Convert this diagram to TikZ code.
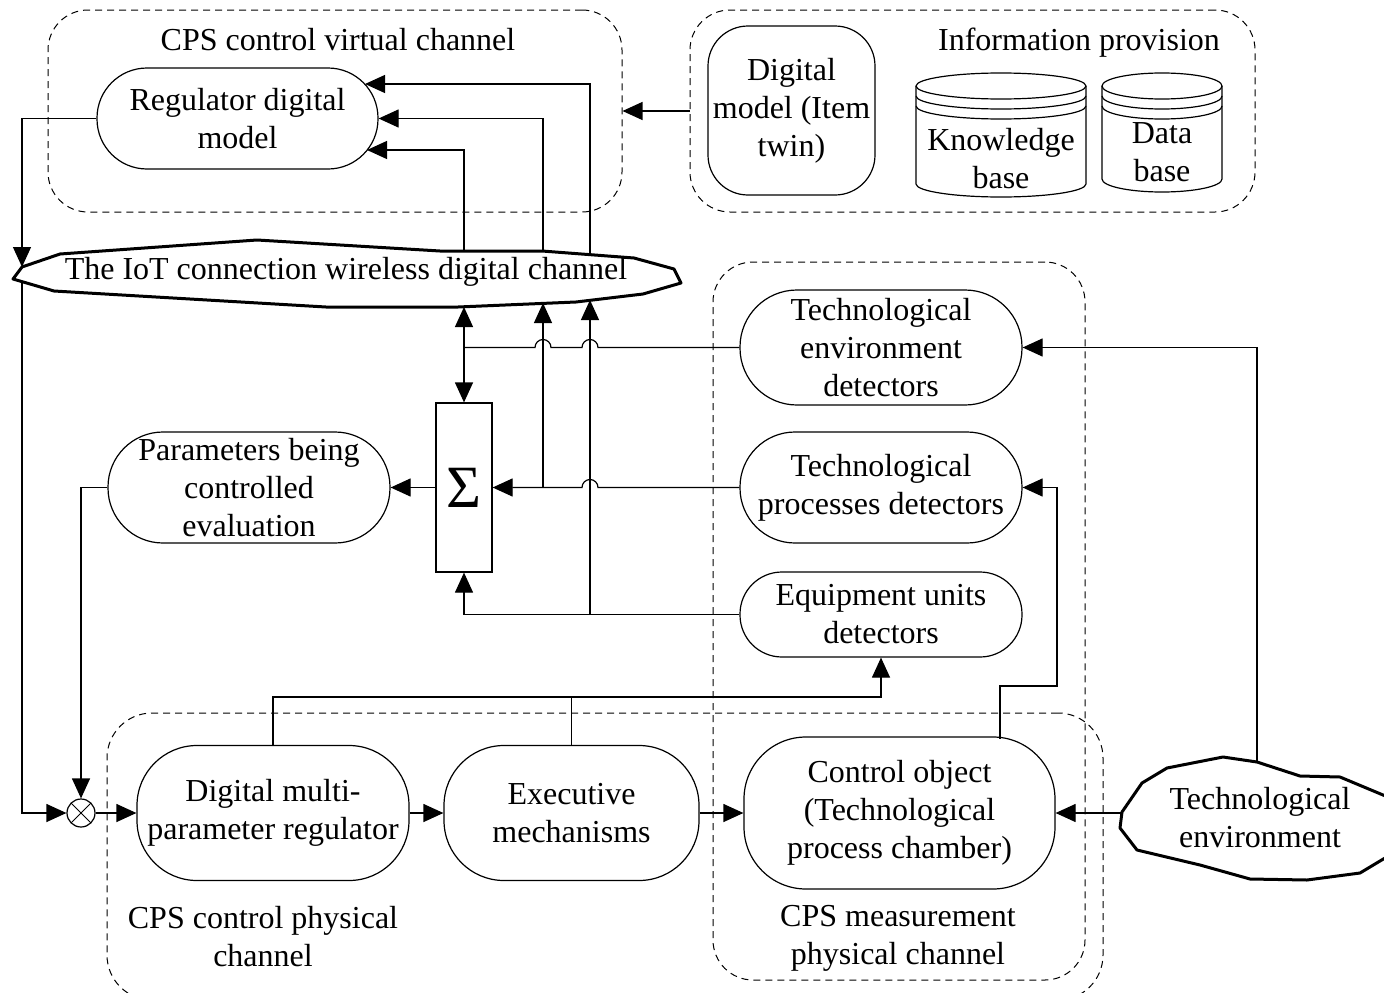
\documentclass[tikz,border=0pt]{standalone}
\usepackage{fontspec}
\setmainfont{Liberation Serif}
\usetikzlibrary{arrows.meta}
\newcommand\fs{\fontsize{32}{38}\selectfont}
\begin{document}
\begin{tikzpicture}[x=1pt,y=-1pt,
  every node/.style={font=\fs, align=center, inner sep=0pt},
  ln/.style={line width=1.2pt},
  arr/.style={ln, -{Triangle[length=20pt,width=18pt]}},
  darr/.style={ln, {Triangle[length=20pt,width=18pt]}-{Triangle[length=20pt,width=18pt]}},
  grp/.style={draw, line width=1pt, dash pattern=on 7pt off 5pt, rounded corners=40pt},
  blk/.style={draw, line width=1.2pt, fill=white},
  heavy/.style={line width=3pt, line join=round}]

\useasboundingbox (0,0) rectangle (1384,993);
\fill[white] (0,0) rectangle (1384,993);

% group frames
\node[grp, minimum width=574pt, minimum height=202pt] (virt) at (335,111) {};
\node[grp, minimum width=565pt, minimum height=202pt] (info) at (972.5,111) {};
\node[grp, minimum width=372pt, minimum height=718pt] (meas) at (899,621) {};
\node[grp, rounded corners=45pt, minimum width=996pt, minimum height=287pt] (phys) at (605,856.5) {};

\node (lvirt) at (338,40) {CPS control virtual channel};
\node (linfo) at (1079,43) {Information provision};
\node (lmeas) at (898,938) {CPS measurement\\physical channel};
\node (lphys) at (263,937) {CPS control physical\\channel};

% blocks
\node[blk, rounded corners=50pt, minimum width=281pt, minimum height=101pt] (reg) at (237.5,118.5) {Regulator digital\\model};
\node[blk, rounded corners=40pt, minimum width=167pt, minimum height=169pt] (twin) at (791.5,110.5) {Digital\\model (Item\\twin)};

% cylinders
\draw[ln] (916,86) -- (916,184) arc[start angle=180,end angle=360,x radius=85pt,y radius=13pt] -- (1086,86);
\draw[ln] (1001,86) ellipse [x radius=85pt, y radius=13pt];
\draw[ln] (916,96) arc[start angle=180,end angle=360,x radius=85pt,y radius=13pt];
\draw[ln] (916,106) arc[start angle=180,end angle=360,x radius=85pt,y radius=13pt];
\node (kb) at (1001,159) {Knowledge\\base};

\draw[ln] (1102,86) -- (1102,179) arc[start angle=180,end angle=360,x radius=60pt,y radius=13pt] -- (1222,86);
\draw[ln] (1162,86) ellipse [x radius=60pt, y radius=13pt];
\draw[ln] (1102,96) arc[start angle=180,end angle=360,x radius=60pt,y radius=13pt];
\draw[ln] (1102,106) arc[start angle=180,end angle=360,x radius=60pt,y radius=13pt];
\node (db) at (1162,152) {Data\\base};

% IoT channel
\draw[heavy, fill=white] (13,279) -- (22,267) -- (60,254) -- (257,240) -- (440,251) -- (542,251) -- (634,258) -- (674,269) -- (681,283) -- (643,294) -- (576,302) -- (458,307) -- (326,307) -- (54,291) -- cycle;
\node (iot) at (346,272) {The IoT connection wireless digital channel};

\node[blk, rounded corners=57pt, minimum width=282pt, minimum height=115pt] (envdet) at (881,347.5) {Technological\\environment\\detectors};
\node[blk, rounded corners=55pt, minimum width=282pt, minimum height=111pt] (procdet) at (881,487.5) {Technological\\processes detectors};
\node[blk, rounded corners=42pt, minimum width=282pt, minimum height=85pt] (equipdet) at (881,614.5) {Equipment units\\detectors};
\node[blk, rounded corners=55pt, minimum width=282pt, minimum height=111pt] (parm) at (249,487.5) {Parameters being\\controlled\\evaluation};
\node[blk, minimum width=56pt, minimum height=169pt] (sig) at (464,487.5) {\fontsize{60}{60}\selectfont Σ};

\node[draw, circle, minimum size=28pt, line width=1.2pt, fill=white,
  path picture={\draw[line width=1pt] (path picture bounding box.north west) -- (path picture bounding box.south east) (path picture bounding box.north east) -- (path picture bounding box.south west);}] (junc) at (81,813) {};

\node[blk, rounded corners=60pt, minimum width=272pt, minimum height=135pt] (dmr) at (273,813) {Digital multi-\\parameter regulator};
\node[blk, rounded corners=60pt, minimum width=255pt, minimum height=135pt] (exec) at (571.5,813) {Executive\\mechanisms};
\node[blk, rounded corners=62pt, minimum width=311pt, minimum height=152pt] (ctrl) at (899.5,813) {Control object\\(Technological\\process chamber)};

% technological environment cloud
\draw[heavy, fill=white] (1120,828) -- (1122,812) -- (1142,783) -- (1167,768) -- (1223,757) -- (1257,762) -- (1300,776) -- (1340,777) -- (1395,800) -- (1395,852) -- (1360,873) -- (1307,880) -- (1250,879) -- (1200,865) -- (1137,850) -- cycle;
\node (envc) at (1260,818) {Technological\\environment};

% named points on irregular outlines
\coordinate (iotTL) at (22,267);
\coordinate (iotBL) at (22,282);
\coordinate (iotT1) at (464,251);
\coordinate (iotT2) at (543,251);
\coordinate (iotT3) at (590,255);
\coordinate (iotB1) at (464,307);
\coordinate (iotB2) at (543,303);
\coordinate (iotB3) at (590,300);
\coordinate (regIn1) at (365,84);
\coordinate (regIn3) at (367,150);
\coordinate (envcT) at (1257,762);
\coordinate (envcL) at (1122,813);
\coordinate (ctrlT) at (1000,738.5);
\coordinate (cb) at (1057,686);

% connectors
\draw[arr] (info.west) -- (virt.east);
\draw[arr] (reg.west) -| (iotTL);
\draw[arr] (iotBL) |- (junc.west);
\draw[arr] (parm.west) -| (junc.north);
\draw[arr] (junc.east) -- (dmr.west);
\draw[arr] (dmr.east) -- (exec.west);
\draw[arr] (exec.east) -- (ctrl.west);
\draw[arr] (envcL) -- (ctrl.east);
\draw[arr] (dmr.north) -- ++(0,-48) -| (equipdet.south);
\draw[ln] (exec.north) -- ++(0,-48);
\draw[arr] (ctrlT) |- (cb) |- (procdet.east);
\draw[arr] (envcT) |- (envdet.east);
\draw[ln] (envdet.west) -- (598,347.5) arc[start angle=0,end angle=180,radius=8pt] -- (551,347.5) arc[start angle=0,end angle=180,radius=8pt] -- (464,347.5);
\draw[darr] (iotB1) -- (sig.north);
\draw[arr] (procdet.west) -- (598,487.5) arc[start angle=0,end angle=180,radius=8pt] -- (sig.east);
\draw[arr] (543,487.5) -- (iotB2);
\draw[arr] (equipdet.west) -| (sig.south);
\draw[arr] (590,614.5) -- (iotB3);
\draw[arr] (sig.west) -- (parm.east);
\draw[arr] (iotT1) |- (regIn3);
\draw[arr] (iotT2) |- (reg.east);
\draw[arr] (iotT3) |- (regIn1);
\end{tikzpicture}
\end{document}
